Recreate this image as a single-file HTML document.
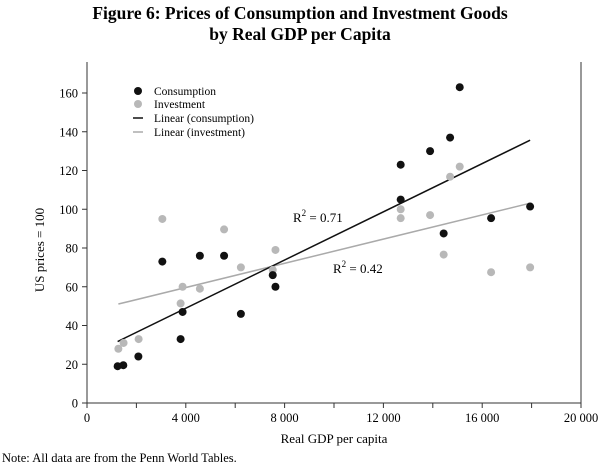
<!DOCTYPE html>
<html><head><meta charset="utf-8"><style>
body{margin:0;background:#fff;}
svg{display:block;font-family:"Liberation Serif",serif;}
</style></head><body>
<svg width="600" height="465" viewBox="0 0 600 465">
<text x="300" y="19" text-anchor="middle" font-size="17.5" font-weight="bold">Figure 6: Prices of Consumption and Investment Goods</text>
<text x="300" y="40" text-anchor="middle" font-size="17.5" font-weight="bold">by Real GDP per Capita</text>
<g id="plot"></g>
<text transform="translate(44,250) rotate(-90)" text-anchor="middle" font-size="13">US prices = 100</text>
<text x="334" y="443" text-anchor="middle" font-size="13">Real GDP per capita</text>
<text x="2" y="462" font-size="12.5">Note: All data are from the Penn World Tables.</text>
<g>
<circle cx="138" cy="91" r="4" fill="#111"/><text x="154" y="95" font-size="11.5">Consumption</text>
<circle cx="138" cy="104" r="4" fill="#b8b8b8"/><text x="154" y="108" font-size="11.5">Investment</text>
<line x1="133" x2="143" y1="118" y2="118" stroke="#111" stroke-width="1.5"/><text x="154" y="122" font-size="11.5">Linear (consumption)</text>
<line x1="133" x2="143" y1="132" y2="132" stroke="#aaa" stroke-width="1.5"/><text x="154" y="136" font-size="11.5">Linear (investment)</text>
</g>
<text x="293" y="222" font-size="13">R<tspan dy="-6" font-size="9">2</tspan><tspan dy="6"> = 0.71</tspan></text>
<text x="333" y="273" font-size="13">R<tspan dy="-6" font-size="9">2</tspan><tspan dy="6"> = 0.42</tspan></text>
</svg>
<script>
const consX=[1240,1470,2080,3050,3790,3870,4570,5550,6230,7520,7630,12700,12700,13890,14700,15090,14440,16360,17940];
const consY=[19,19.5,24,73,33,47,76,76,46,66,60,123,105,130,137,163,87.5,95.4,101.4];
const invX=[1270,1480,2090,3050,3790,3870,4570,5550,6230,7520,7630,12700,12700,13890,14440,14700,15090,16360,17940];
const invY=[28,31,33,95,51.4,60,59,89.6,70,68.7,79,100,95.4,97,76.6,116.8,122,67.5,70];
const xTicks=[0,2000,4000,6000,8000,10000,12000,14000,16000,18000,20000];
const xLabels=["0","","4 000","","8 000","","12 000","","16 000","","20 000"];
const yTicks=[0,20,40,60,80,100,120,140,160];
const NS="http://www.w3.org/2000/svg";
const g=document.getElementById('plot');
const X0=87,X1=581,Y0=403,Y1=91;
const sx=v=>X0+(v/20000)*(X1-X0);
const sy=v=>Y0-(v/160)*(Y0-93);
function mk(t,a){const e=document.createElementNS(NS,t);for(const k in a)e.setAttribute(k,a[k]);g.appendChild(e);return e;}
let e=mk('line',{x1:X0,x2:X0,y1:62,y2:Y0,stroke:'#333','stroke-width':1});


e=mk('line',{x1:X0,x2:X1,y1:Y0,y2:Y0,stroke:'#333','stroke-width':1});


e=mk('line',{x1:X1,x2:X1,y1:62,y2:Y0,stroke:'#333','stroke-width':1});


xTicks.forEach((v,i)=>{mk('line',{x1:sx(v),x2:sx(v),y1:Y0,y2:Y0+5,stroke:'#333'});
 if(xLabels[i]){const t=mk('text',{x:sx(v),y:Y0+19,'text-anchor':'middle','font-size':12.5});t.textContent=xLabels[i];
 
 }});
yTicks.forEach(v=>{mk('line',{x1:X0-5,x2:X0,y1:sy(v),y2:sy(v),stroke:'#333'});
 const t=mk('text',{x:X0-9,y:sy(v)+4.5,'text-anchor':'end','font-size':12.5});t.textContent=v;
 
 });
function fit(xs,ys){const n=xs.length;let mx=0,my=0;xs.forEach((v,i)=>{mx+=v;my+=ys[i];});mx/=n;my/=n;let sxy=0,sxx=0;xs.forEach((v,i)=>{sxy+=(v-mx)*(ys[i]-my);sxx+=(v-mx)*(v-mx);});const b=sxy/sxx;return [my-b*mx,b,Math.min(...xs),Math.max(...xs)];}
[[invX,invY,'#aaa','trend-investment'],[consX,consY,'#111','trend-consumption']].forEach(([xs,ys,c,n])=>{const [a,b,lo,hi]=fit(xs,ys);
 const l=mk('line',{x1:sx(lo),y1:sy(a+b*lo),x2:sx(hi),y2:sy(a+b*hi),stroke:c,'stroke-width':1.5});
 
 });
invX.forEach((v,i)=>{const c=mk('circle',{cx:sx(v),cy:sy(invY[i]),r:4,fill:'#b8b8b8'});
 
 });
consX.forEach((v,i)=>{const c=mk('circle',{cx:sx(v),cy:sy(consY[i]),r:4,fill:'#111'});
 
 });
</script>
</body></html>
